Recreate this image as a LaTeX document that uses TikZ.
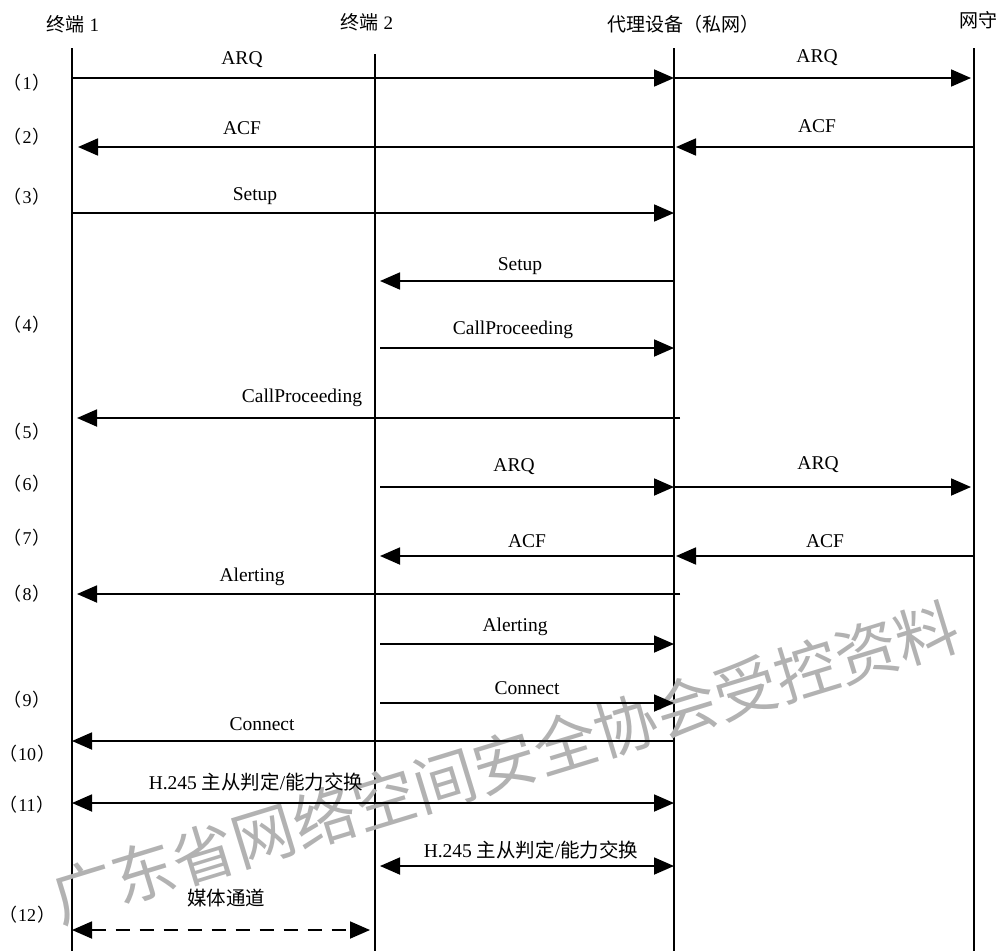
\documentclass[tikz,border=0pt]{standalone}
\usepackage{fontspec}
\setmainfont{Liberation Serif}
\newfontfamily\cjk{Noto Sans CJK SC}
\usetikzlibrary{arrows.meta}
\newcommand{\rowlab}[1]{{\cjk （}\kern1pt#1\kern1pt{\cjk ）}}
\tikzset{
  life/.style={line width=1.3pt},
  lifethick/.style={line width=1.8pt},
  msg/.style={line width=1.8pt,-{Triangle[length=20pt,width=17pt]}},
  bmsg/.style={line width=1.8pt,{Triangle[length=20pt,width=17pt]}-{Triangle[length=20pt,width=17pt]}},
  lbl/.style={inner sep=0pt,font=\fontsize{19.5}{22}\selectfont},
  hdr/.style={inner sep=0pt,font=\fontsize{19}{21}\selectfont},
  row/.style={inner sep=0pt,font=\fontsize{18}{20}\selectfont},
  wm/.style={inner sep=0pt,text=black!30,font=\cjk\fontsize{63}{66}\selectfont}
}
\begin{document}
\begin{tikzpicture}[x=1pt,y=-1pt]
\useasboundingbox (0,0) rectangle (998,951);
% headers
\node[hdr] (h1) at (73,24) {{\cjk 终端} 1};
\node[hdr] (h2) at (367,22) {{\cjk 终端} 2};
\node[hdr] (h3) at (683,24) {\cjk 代理设备（私网）};
\node[hdr] (h4) at (978,20) {\cjk 网守};
% lifelines
\coordinate (t1) at (72,48);  \coordinate (b1) at (72,951);
\coordinate (t2) at (375,54); \coordinate (b2) at (375,951);
\coordinate (t3) at (674,48); \coordinate (b3) at (674,951);
\coordinate (t4) at (974,48); \coordinate (b4) at (974,951);
\draw[lifethick] (t1) -- (b1);
\draw[life] (t2) -- (b2);
\draw[life] (t3) -- (b3);
\draw[life] (t4) -- (b4);
% row labels
\node[row] (r1) at (27,83) {\rowlab{1}};
\node[row] (r2) at (27,137) {\rowlab{2}};
\node[row] (r3) at (27,197) {\rowlab{3}};
\node[row] (r4) at (27,325) {\rowlab{4}};
\node[row] (r5) at (27,432) {\rowlab{5}};
\node[row] (r6) at (27,484) {\rowlab{6}};
\node[row] (r7) at (27,538) {\rowlab{7}};
\node[row] (r8) at (27,594) {\rowlab{8}};
\node[row] (r9) at (27,700) {\rowlab{9}};
\node[row] (r10) at (27,754) {\rowlab{10}};
\node[row] (r11) at (27,805) {\rowlab{11}};
\node[row] (r12) at (27,915) {\rowlab{12}};
% message endpoints
\coordinate (m1a) at (72,78);  \coordinate (m1b) at (674,78);
\coordinate (m1c) at (674,78); \coordinate (m1d) at (971,78);
\coordinate (m2a) at (674,147); \coordinate (m2b) at (78,147);
\coordinate (m2c) at (974,147); \coordinate (m2d) at (676,147);
\coordinate (m3a) at (72,213); \coordinate (m3b) at (674,213);
\coordinate (m4a) at (674,281); \coordinate (m4b) at (380,281);
\coordinate (m4c) at (380,348); \coordinate (m4d) at (674,348);
\coordinate (m5a) at (680,418); \coordinate (m5b) at (77,418);
\coordinate (m6a) at (380,487); \coordinate (m6b) at (674,487);
\coordinate (m6c) at (674,487); \coordinate (m6d) at (971,487);
\coordinate (m7a) at (674,556); \coordinate (m7b) at (380,556);
\coordinate (m7c) at (974,556); \coordinate (m7d) at (676,556);
\coordinate (m8a) at (680,594); \coordinate (m8b) at (77,594);
\coordinate (m8c) at (380,644); \coordinate (m8d) at (674,644);
\coordinate (m9a) at (380,703); \coordinate (m9b) at (674,703);
\coordinate (m10a) at (674,741); \coordinate (m10b) at (72,741);
\coordinate (m11a) at (72,803); \coordinate (m11b) at (674,803);
\coordinate (m11c) at (380,866); \coordinate (m11d) at (674,866);
\coordinate (m12a) at (72,930); \coordinate (m12b) at (370,930);
% watermark
\node[wm,rotate=17] (wmk) at (505,762) {广东省网络空间安全协会受控资料};
% messages
\draw[msg] (m1a) -- (m1b);  \node[lbl] (l1a) at (242,60) {ARQ};
\draw[msg] (m1c) -- (m1d);  \node[lbl] (l1b) at (817,58) {ARQ};
\draw[msg] (m2a) -- (m2b);  \node[lbl] (l2a) at (242,128) {ACF};
\draw[msg] (m2c) -- (m2d);  \node[lbl] (l2b) at (817,126) {ACF};
\draw[msg] (m3a) -- (m3b);  \node[lbl] (l3) at (255,196) {Setup};
\draw[msg] (m4a) -- (m4b);  \node[lbl] (l4a) at (520,266) {Setup};
\draw[msg] (m4c) -- (m4d);  \node[lbl] (l4b) at (513,330) {CallProceeding};
\draw[msg] (m5a) -- (m5b);  \node[lbl] (l5) at (302,398) {CallProceeding};
\draw[msg] (m6a) -- (m6b);  \node[lbl] (l6a) at (514,467) {ARQ};
\draw[msg] (m6c) -- (m6d);  \node[lbl] (l6b) at (818,465) {ARQ};
\draw[msg] (m7a) -- (m7b);  \node[lbl] (l7a) at (527,541) {ACF};
\draw[msg] (m7c) -- (m7d);  \node[lbl] (l7b) at (825,541) {ACF};
\draw[msg] (m8a) -- (m8b);  \node[lbl] (l8a) at (252,577) {Alerting};
\draw[msg] (m8c) -- (m8d);  \node[lbl] (l8b) at (515,627) {Alerting};
\draw[msg] (m9a) -- (m9b);  \node[lbl] (l9) at (527,688) {Connect};
\draw[msg] (m10a) -- (m10b); \node[lbl] (l10) at (262,724) {Connect};
\draw[bmsg] (m11a) -- (m11b); \node[lbl] (l11a) at (256,782) {H.245 {\cjk 主从判定}/{\cjk 能力交换}};
\draw[bmsg] (m11c) -- (m11d); \node[lbl] (l11b) at (531,850) {H.245 {\cjk 主从判定}/{\cjk 能力交换}};
\draw[bmsg,dash pattern=on 14pt off 10pt] (m12a) -- (m12b); \node[lbl] (l12) at (226,898) {\cjk 媒体通道};
\end{tikzpicture}
\end{document}
